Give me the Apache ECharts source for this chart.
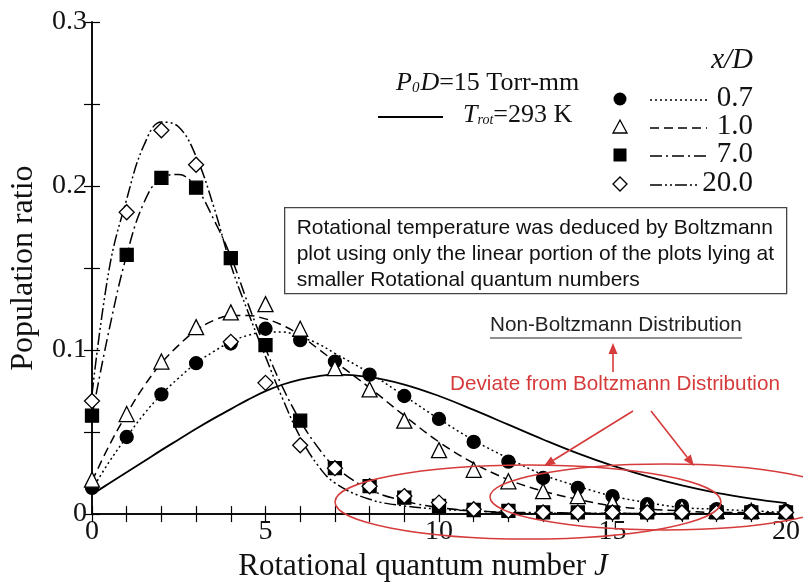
<!DOCTYPE html>
<html>
<head>
<meta charset="utf-8">
<script src="https://cdn.jsdelivr.net/npm/echarts@6/dist/echarts.min.js"></script>
<style>
  html, body { margin: 0; padding: 0; background: #fff; }
  #chart { width: 803px; height: 587px; }
</style>
</head>
<body>
<div id="chart"></div>
<script>
// measured points, x/D = 0.7, 1.0, 7.0, 20.0
var J = [0,1,2,3,4,5,6,7,8,9,10,11,12,13,14,15,16,17,18,19,20];
var ratio07  = [0.016,0.047,0.073,0.092,0.104,0.113,0.106,0.093,0.085,0.072,0.058,0.044,0.032,0.022,0.016,0.011,0.006,0.005,0.003,0.002,0.002];
var ratio10  = [0.021,0.061,0.093,0.114,0.123,0.128,0.113,0.089,0.076,0.057,0.039,0.027,0.020,0.014,0.011,0.007,0.004,0.004,0.002,0.002,0.002];
var ratio70  = [0.060,0.158,0.205,0.199,0.156,0.103,0.057,0.028,0.017,0.010,0.005,0.0025,0.002,0.001,0.001,0.001,0.001,0.001,0.001,0.001,0.001];
var ratio200 = [0.069,0.184,0.234,0.213,0.105,0.080,0.042,0.028,0.017,0.011,0.007,0.003,0.002,0.001,0.001,0.001,0.001,0.001,0.001,0.001,0.001];

// fitted curves
var fitJ   = [0,0.5,1,1.5,2,2.5,3,3.5,4,4.5,5,5.5,6,6.5,7,8,9,10,11,12,13,14,15,16,17,18,19,20];
var fit07  = [0.015,0.032,0.047,0.061,0.073,0.083,0.092,0.099,0.105,0.109,0.111,0.111,0.108,0.104,0.098,0.086,0.072,0.058,0.045,0.034,0.024,0.017,0.011,0.007,0.004,0.003,0.002,0.001];
var fit10  = [0.020,0.042,0.061,0.078,0.092,0.103,0.112,0.118,0.121,0.121,0.119,0.115,0.109,0.101,0.093,0.077,0.060,0.044,0.031,0.021,0.014,0.009,0.005,0.003,0.002,0.001,0.001,0.0005];
var fit70  = [0.060,0.113,0.158,0.190,0.205,0.207,0.199,0.180,0.157,0.128,0.101,0.077,0.057,0.041,0.029,0.015,0.008,0.004,0.002,0.001,0.001,0.0005,0.0005,0.0003,0.0003,0.0002,0.0002,0.0001];
var fit200 = [0.073,0.150,0.192,0.225,0.239,0.236,0.218,0.188,0.152,0.123,0.096,0.070,0.047,0.030,0.019,0.009,0.005,0.003,0.002,0.001,0.0005,0.0005,0.0003,0.0003,0.0002,0.0002,0.0001,0.0001];
// Boltzmann distribution, Trot = 293 K
var fitTrot = [0.012,0.0188,0.0255,0.0322,0.039,0.0455,0.052,0.0582,0.064,0.0698,0.075,0.079,0.082,0.084,0.085,0.0835,0.079,0.072,0.0635,0.0545,0.0455,0.037,0.0295,0.023,0.0175,0.013,0.0095,0.0067];

var legendLabels = ['0.7', '1.0', '7.0', '20.0'];
var boxLines = [
  'Rotational temperature was deduced by Boltzmann',
  'plot using only the linear portion of the plots lying at',
  'smaller Rotational quantum numbers'
];

var SERIF = '"Liberation Serif", "Times New Roman", serif';
var SANS = '"Liberation Sans", Arial, sans-serif';
var RED = '#d63b3b';

function pairs(xs, ys) {
  return xs.map(function (x, i) { return [x, ys[i]]; });
}

function arrow(x1, y1, x2, y2) {
  var dx = x2 - x1, dy = y2 - y1;
  var len = Math.sqrt(dx * dx + dy * dy);
  var ux = dx / len, uy = dy / len;
  var bx = x2 - ux * 11, by = y2 - uy * 11;
  return [
    { type: 'line', shape: { x1: x1, y1: y1, x2: bx, y2: by }, style: { stroke: RED, lineWidth: 1.6 }, z: 100 },
    { type: 'polygon', shape: { points: [[x2, y2], [bx - uy * 4.5, by + ux * 4.5], [bx + uy * 4.5, by - ux * 4.5]] }, style: { fill: RED }, z: 100 }
  ];
}

var chart = echarts.init(document.getElementById('chart'));

var lineDefs = [
  { data: fit07, dash: [2, 3] },
  { data: fit10, dash: [9, 5] },
  { data: fit70, dash: [12, 4, 2, 4] },
  { data: fit200, dash: [12, 3, 2, 3, 2, 3] }
];
var markDefs = [
  { data: ratio07, symbol: 'circle', size: 13, fill: '#000' },
  { data: ratio10, symbol: 'triangle', size: 15, fill: '#fff' },
  { data: ratio70, symbol: 'rect', size: 13, fill: '#000' },
  { data: ratio200, symbol: 'diamond', size: 15, fill: '#fff' }
];

var series = [];
series.push({
  type: 'line', data: pairs(fitJ, fitTrot), smooth: 0.4, showSymbol: false, silent: true,
  lineStyle: { color: '#000', width: 1.8 }, z: 2
});
lineDefs.forEach(function (d) {
  series.push({
    type: 'line', data: pairs(fitJ, d.data), smooth: 0.4, showSymbol: false, silent: true,
    lineStyle: { color: '#000', width: 1.5, type: d.dash }, z: 2
  });
});
markDefs.forEach(function (d) {
  series.push({
    type: 'scatter', data: pairs(J, d.data), symbol: d.symbol, symbolSize: d.size,
    itemStyle: { color: d.fill, borderColor: '#000', borderWidth: 1.3, opacity: 1 }, z: 5
  });
});

// legend and annotations
var gfx = [];
gfx.push({
  type: 'text', left: 396, top: 70,
  style: {
    text: '{i|P}{s|0}{i|D}{n|=15 Torr-mm}',
    rich: {
      i: { fontFamily: SERIF, fontSize: 26, fontStyle: 'italic', fill: '#111' },
      s: { fontFamily: SERIF, fontSize: 15, fontStyle: 'italic', fill: '#111', padding: [10, 1, 0, 0] },
      n: { fontFamily: SERIF, fontSize: 26, fill: '#111' }
    }
  }
});
gfx.push({ type: 'line', shape: { x1: 378, y1: 117, x2: 443, y2: 117 }, style: { stroke: '#000', lineWidth: 1.8 } });
gfx.push({
  type: 'text', left: 463, top: 102,
  style: {
    text: '{i|T}{s|rot}{n|=293 K}',
    rich: {
      i: { fontFamily: SERIF, fontSize: 26, fontStyle: 'italic', fill: '#111' },
      s: { fontFamily: SERIF, fontSize: 14, fontStyle: 'italic', fill: '#111', padding: [10, 0, 0, 0] },
      n: { fontFamily: SERIF, fontSize: 26, fill: '#111' }
    }
  }
});
gfx.push({
  type: 'text', right: 803 - 753, top: 46,
  style: { text: 'x/D', font: 'italic 29px ' + SERIF, fill: '#111' }
});

var legendY = [99, 127, 155, 184];
gfx.push({ type: 'circle', shape: { cx: 620, cy: legendY[0], r: 6.5 }, style: { fill: '#000' } });
gfx.push({ type: 'polygon', shape: { points: [[620, legendY[1] - 7], [627, legendY[1] + 6], [613, legendY[1] + 6]] }, style: { fill: '#fff', stroke: '#000', lineWidth: 1.3 } });
gfx.push({ type: 'rect', shape: { x: 613.5, y: legendY[2] - 6.5, width: 13, height: 13 }, style: { fill: '#000' } });
gfx.push({ type: 'polygon', shape: { points: [[620, legendY[3] - 7], [627, legendY[3]], [620, legendY[3] + 7], [613, legendY[3]]] }, style: { fill: '#fff', stroke: '#000', lineWidth: 1.3 } });
lineDefs.forEach(function (d, i) {
  var x2 = i === 3 ? 697 : 707;
  gfx.push({ type: 'line', shape: { x1: 650, y1: legendY[i] + 1, x2: x2, y2: legendY[i] + 1 }, style: { stroke: '#000', lineWidth: 1.6, lineDash: d.dash } });
  gfx.push({
    type: 'text', right: 803 - 753, top: legendY[i] - 15,
    style: { text: legendLabels[i], font: '29px ' + SERIF, fill: '#111' }
  });
});

// explanation box
gfx.push({
  type: 'group', left: 284, top: 207,
  children: [
    { type: 'rect', shape: { x: 0, y: 0, width: 502, height: 86 }, style: { fill: '#fff', stroke: '#444', lineWidth: 1.3 } }
  ].concat(boxLines.map(function (t, i) {
    return { type: 'text', x: 12, y: 10 + i * 26, style: { text: t, font: '21px ' + SANS, fill: '#111' } };
  })),
  z: 50
});

// Non-Boltzmann label with underline
gfx.push({ type: 'text', left: 490, top: 315, style: { text: 'Non-Boltzmann Distribution', font: '20.7px ' + SANS, fill: '#222' }, z: 100 });
gfx.push({ type: 'line', shape: { x1: 490, y1: 338, x2: 742, y2: 338 }, style: { stroke: '#222', lineWidth: 1.2 }, z: 100 });
gfx.push({ type: 'text', left: 450, top: 374, style: { text: 'Deviate from Boltzmann Distribution', font: '20.7px ' + SANS, fill: RED }, z: 100 });
gfx = gfx.concat(arrow(613, 372, 613, 343));
gfx = gfx.concat(arrow(633, 411, 544, 466));
gfx = gfx.concat(arrow(651, 411, 694, 466));

// red ellipses around the tails
gfx.push({ type: 'ellipse', shape: { cx: 528, cy: 502, rx: 193, ry: 37 }, style: { fill: 'none', stroke: RED, lineWidth: 1.5 }, z: 100 });
gfx.push({ type: 'ellipse', shape: { cx: 665, cy: 497, rx: 175, ry: 33 }, style: { fill: 'none', stroke: RED, lineWidth: 1.5 }, z: 100 });

var axisLine = { show: true, lineStyle: { color: '#000', width: 1.5 } };
var tickIn = { show: true, inside: true, length: 8, lineStyle: { color: '#000', width: 1.2 } };

chart.setOption({
  animation: false,
  backgroundColor: '#fff',
  grid: { left: 92, right: 13, top: 22, bottom: 71 },
  xAxis: [{
    type: 'value', min: 0, max: 20, interval: 1,
    axisLine: axisLine, axisTick: tickIn, splitLine: { show: false },
    axisLabel: {
      margin: 4, color: '#111', fontFamily: SERIF, fontSize: 28,
      formatter: function (v) { return v % 5 === 0 ? String(v) : ''; }
    },
    name: '{a|Rotational quantum number }{b|J}',
    nameLocation: 'middle', nameGap: 33,
    nameTextStyle: {
      padding: [0, 32, 0, 0],
      rich: {
        a: { fontFamily: SERIF, fontSize: 31, color: '#111' },
        b: { fontFamily: SERIF, fontSize: 31, fontStyle: 'italic', color: '#111' }
      }
    }
  }, {
    type: 'value', position: 'top', min: 0, max: 20, interval: 1,
    axisLine: axisLine, axisTick: tickIn, axisLabel: { show: false }, splitLine: { show: false }
  }],
  yAxis: [{
    type: 'value', min: 0, max: 0.3, interval: 0.05,
    axisLine: axisLine, axisTick: tickIn, splitLine: { show: false },
    axisLabel: {
      margin: 5, color: '#111', fontFamily: SERIF, fontSize: 28,
      formatter: function (v) { var k = Math.round(v * 20); return k % 2 === 0 ? String(k / 20) : ''; }
    },
    name: 'Population ratio', nameLocation: 'middle', nameGap: 52,
    nameTextStyle: { fontFamily: SERIF, fontSize: 32, color: '#111' }
  }, {
    type: 'value', position: 'right', min: 0, max: 0.3, interval: 0.05,
    axisLine: axisLine, axisTick: tickIn, axisLabel: { show: false }, splitLine: { show: false }
  }],
  series: series,
  graphic: gfx
});
</script>
</body>
</html>
